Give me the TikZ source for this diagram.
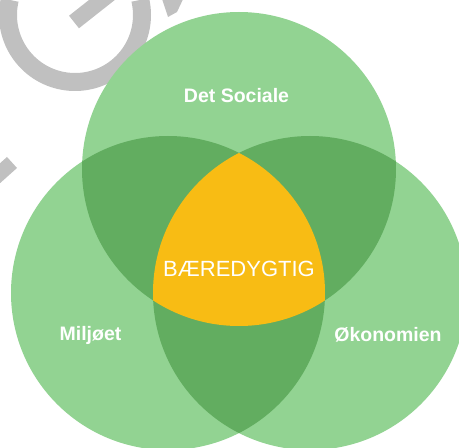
\documentclass[tikz,border=0pt]{standalone}
\usepackage{fontspec}
\setmainfont{Liberation Sans}

\definecolor{lightgreen}{RGB}{146,211,146}
\definecolor{darkgreen}{RGB}{98,173,96}
\definecolor{coreyellow}{RGB}{248,188,20}
\definecolor{wmgray}{RGB}{192,192,192}

\tikzset{
  wmark/.style={draw=wmgray, line width=16pt, line cap=butt},
  sidelabel/.style={text=white, anchor=base, font=\fontsize{19.5}{20}\selectfont\bfseries},
  corelabel/.style={text=white, anchor=base, font=\fontsize{22}{24}\selectfont}
}

\begin{document}
\begin{tikzpicture}[x=1pt,y=1pt]
          \useasboundingbox (0,0) rectangle (459,448);

          % Watermark strokes (behind the circles)
          \draw[wmark, line width=18pt] (75,433) ++(167:67) arc[start angle=167, end angle=373, radius=67];
          \draw[wmark] (74,426) -- (112,456);
          \fill[wmgray] (160,455) -- (186,455) -- (177,436) -- (168,431) -- cycle;
          \fill[wmgray] (7,291) -- (17,280) -- (-2,263) -- (-12,274) -- cycle;

          % Circle centres
          \coordinate (S) at (239,279);
          \coordinate (M) at (168,155);
          \coordinate (O) at (310,155);

          % Three circles
          \fill[lightgreen] (S) circle (157pt);
          \fill[lightgreen] (M) circle (157pt);
          \fill[lightgreen] (O) circle (157pt);

          % Pairwise overlaps
          \begin{scope}
            \clip (S) circle (157pt);
            \fill[darkgreen] (M) circle (157pt);
            \fill[darkgreen] (O) circle (157pt);
          \end{scope}
          \begin{scope}
            \clip (M) circle (157pt);
            \fill[darkgreen] (O) circle (157pt);
          \end{scope}

          % Common part
          \begin{scope}
            \clip (S) circle (157pt);
            \clip (M) circle (157pt);
            \fill[coreyellow] (O) circle (157pt);
          \end{scope}

          % Labels
          \node[sidelabel] (social) at (236.5,345) {Det Sociale};
          \node[sidelabel] (miljo) at (90.5,107) {Miljøet};
          \node[sidelabel] (okonomi) at (388,106) {Økonomien};
          \node[corelabel] (core) at (239,171) {BÆREDYGTIG};
        \end{tikzpicture}
\end{document}
